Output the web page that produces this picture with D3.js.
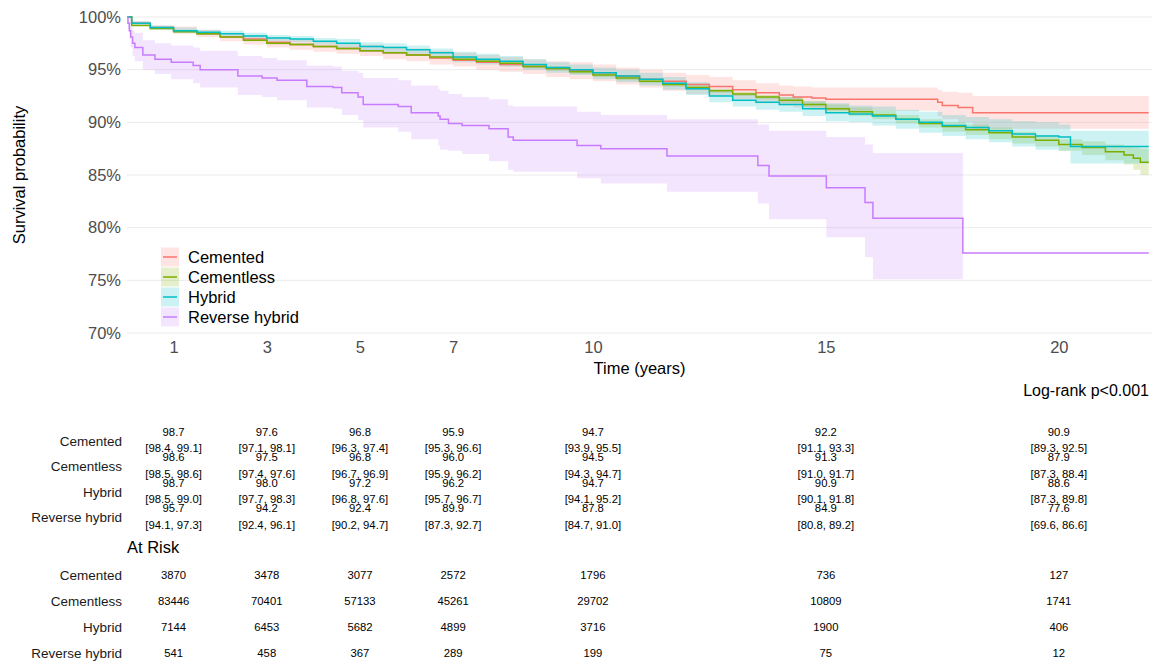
<!DOCTYPE html>
<html>
<head>
<meta charset="utf-8">
<script src="https://cdn.jsdelivr.net/npm/d3@7"></script>
<style>
  body { margin: 0; background: #fff; }
  svg { display: block; font-family: "Liberation Sans", Arial, sans-serif; }
</style>
</head>
<body>
<svg id="chart" width="1158" height="663"></svg>
<script>
"use strict";

// ===== Data =====
const groups = ["Cemented", "Cementless", "Hybrid", "Reverse hybrid"];
const colors = ["#F8766D", "#7CAE00", "#00BFC4", "#C77CFF"];
const endTime = 21.93;

// Cemented
const cemTime  = [0, 0.1, 0.5, 1, 1.5, 2, 2.5, 3, 3.5, 4, 4.5, 5, 5.5, 6, 6.5, 7, 7.5, 8, 8.5, 9, 9.5, 10, 10.5, 11, 11.5, 12, 12.5, 13, 13.5, 14, 14.3, 14.7, 15, 17.4, 17.5, 17.84, 18.15];
const cemSurv  = [100, 99.4, 99.0, 98.7, 98.4, 98.1, 97.9, 97.6, 97.4, 97.2, 97.0, 96.8, 96.6, 96.4, 96.1, 95.9, 95.7, 95.5, 95.3, 95.1, 94.9, 94.7, 94.4, 94.1, 93.9, 93.6, 93.4, 93.1, 92.8, 92.6, 92.4, 92.3, 92.2, 91.9, 91.6, 91.4, 90.9];
const cemLower = [100, 99.2, 98.8, 98.4, 98.1, 97.7, 97.4, 97.1, 96.9, 96.7, 96.5, 96.3, 96.0, 95.8, 95.5, 95.3, 95.0, 94.8, 94.6, 94.3, 94.1, 93.9, 93.6, 93.3, 93.0, 92.7, 92.5, 92.2, 91.8, 91.6, 91.4, 91.2, 91.1, 90.6, 90.3, 90.0, 89.4];
const cemUpper = [100, 99.6, 99.2, 99.1, 98.8, 98.5, 98.3, 98.1, 97.9, 97.7, 97.5, 97.4, 97.2, 97.0, 96.8, 96.6, 96.4, 96.2, 96.0, 95.8, 95.7, 95.5, 95.2, 95.0, 94.7, 94.5, 94.3, 94.0, 93.7, 93.5, 93.4, 93.3, 93.3, 93.1, 92.9, 92.8, 92.5];

// Cementless
const clsTime  = [0, 0.1, 0.5, 1, 1.5, 2, 2.5, 3, 3.5, 4, 4.5, 5, 5.5, 6, 6.5, 7, 7.5, 8, 8.5, 9, 9.5, 10, 10.5, 11, 11.5, 12, 12.5, 13, 13.5, 14, 14.5, 15, 15.5, 16, 16.5, 17, 17.5, 18, 18.5, 19, 19.5, 20, 20.5, 21, 21.4, 21.6, 21.75];
const clsSurv  = [100, 99.2, 98.9, 98.6, 98.4, 98.1, 97.8, 97.5, 97.4, 97.2, 97.0, 96.8, 96.6, 96.4, 96.2, 96.0, 95.8, 95.6, 95.3, 95.1, 94.8, 94.5, 94.2, 93.9, 93.6, 93.3, 93.0, 92.7, 92.4, 92.1, 91.7, 91.3, 91.0, 90.7, 90.3, 89.9, 89.6, 89.3, 89.0, 88.6, 88.3, 87.9, 87.6, 87.2, 86.9, 86.6, 86.2];
const clsLower = [100, 99.15, 98.85, 98.5, 98.3, 98.0, 97.7, 97.4, 97.3, 97.1, 96.9, 96.7, 96.5, 96.3, 96.0, 95.9, 95.7, 95.4, 95.1, 94.9, 94.6, 94.3, 94.0, 93.7, 93.4, 93.1, 92.8, 92.5, 92.2, 91.8, 91.4, 91.0, 90.6, 90.3, 89.9, 89.5, 89.1, 88.8, 88.4, 88.0, 87.7, 87.3, 86.9, 86.4, 86.0, 85.5, 85.0];
const clsUpper = [100, 99.25, 98.95, 98.6, 98.5, 98.2, 97.9, 97.6, 97.5, 97.3, 97.1, 96.9, 96.7, 96.5, 96.3, 96.2, 96.0, 95.7, 95.5, 95.3, 95.0, 94.7, 94.4, 94.1, 93.8, 93.5, 93.2, 92.9, 92.6, 92.4, 92.0, 91.7, 91.4, 91.1, 90.7, 90.3, 90.0, 89.8, 89.5, 89.1, 88.8, 88.4, 88.2, 87.9, 87.7, 87.6, 87.5];

// Hybrid
const hybTime  = [0, 0.1, 0.5, 1, 1.5, 2, 2.5, 3, 3.5, 4, 4.5, 5, 5.5, 6, 6.5, 7, 7.5, 8, 8.5, 9, 9.5, 10, 10.5, 11, 11.5, 12, 12.5, 13, 13.5, 14, 14.5, 15, 15.5, 16, 16.5, 17, 17.5, 18, 18.5, 19, 19.5, 20, 20.25];
const hybSurv  = [100, 99.4, 99.0, 98.7, 98.55, 98.4, 98.2, 98.0, 97.9, 97.7, 97.5, 97.2, 97.1, 96.9, 96.6, 96.2, 96.0, 95.8, 95.5, 95.2, 95.0, 94.7, 94.4, 94.1, 93.7, 93.2, 92.5, 92.1, 91.9, 91.7, 91.3, 90.9, 90.8, 90.6, 90.3, 90.0, 89.7, 89.5, 89.2, 88.9, 88.7, 88.6, 87.7];
const hybLower = [100, 99.2, 98.8, 98.5, 98.3, 98.1, 97.9, 97.7, 97.6, 97.4, 97.1, 96.8, 96.7, 96.5, 96.2, 95.7, 95.5, 95.3, 95.0, 94.7, 94.5, 94.1, 93.8, 93.5, 93.1, 92.6, 91.9, 91.5, 91.2, 91.0, 90.6, 90.1, 90.0, 89.7, 89.4, 89.0, 88.7, 88.4, 88.1, 87.7, 87.4, 87.3, 86.1];
const hybUpper = [100, 99.6, 99.2, 99.0, 98.8, 98.7, 98.5, 98.3, 98.2, 98.0, 97.9, 97.6, 97.5, 97.3, 97.0, 96.7, 96.5, 96.3, 96.0, 95.7, 95.5, 95.2, 95.0, 94.7, 94.3, 93.8, 93.1, 92.7, 92.5, 92.4, 92.0, 91.8, 91.6, 91.5, 91.2, 91.0, 90.7, 90.5, 90.3, 90.1, 90.0, 89.8, 89.2];

// Reverse hybrid
const revTime  = [0, 0.02, 0.05, 0.08, 0.12, 0.17, 0.34, 0.6, 0.95, 1.42, 1.57, 2.38, 2.9, 3.22, 3.86, 4.42, 4.61, 4.96, 5.07, 5.82, 6.1, 6.68, 6.72, 6.9, 7.19, 7.77, 8.18, 8.29, 9.66, 10.17, 11.59, 13.54, 13.78, 15.01, 15.84, 16.01, 17.94];
const revSurv  = [100, 99.4, 98.7, 98.1, 97.5, 97.1, 96.4, 96.0, 95.7, 95.4, 95.0, 94.4, 94.2, 94.0, 93.4, 93.3, 92.8, 92.4, 91.7, 91.5, 90.9, 90.6, 90.3, 89.9, 89.7, 89.4, 88.6, 88.3, 87.8, 87.5, 86.8, 85.9, 84.9, 83.8, 82.4, 80.9, 77.6];
const revLower = [100, 98.9, 97.9, 97.1, 96.3, 95.8, 95.0, 94.6, 94.1, 93.7, 93.3, 92.6, 92.4, 92.1, 91.4, 91.3, 90.7, 90.2, 89.5, 89.1, 88.4, 87.8, 87.4, 87.3, 87.0, 86.3, 85.5, 85.3, 84.7, 84.2, 83.4, 82.3, 80.8, 79.1, 77.2, 75.1, 69.6];
const revUpper = [100, 99.9, 99.6, 99.1, 98.7, 98.5, 97.8, 97.5, 97.3, 97.1, 96.8, 96.3, 96.1, 95.9, 95.4, 95.3, 94.9, 94.7, 94.2, 94.0, 93.5, 93.2, 93.0, 92.7, 92.4, 92.2, 91.6, 91.5, 91.0, 90.7, 90.3, 89.8, 89.2, 88.6, 87.9, 87.1, 86.6];

// Survival table (%, with 95% CI) at the table times
const tableTimes = [1, 3, 5, 7, 10, 15, 20];
const survCemented   = [98.7, 97.6, 96.8, 95.9, 94.7, 92.2, 90.9];
const lowCemented    = [98.4, 97.1, 96.3, 95.3, 93.9, 91.1, 89.3];
const highCemented   = [99.1, 98.1, 97.4, 96.6, 95.5, 93.3, 92.5];
const survCementless = [98.6, 97.5, 96.8, 96.0, 94.5, 91.3, 87.9];
const lowCementless  = [98.5, 97.4, 96.7, 95.9, 94.3, 91.0, 87.3];
const highCementless = [98.6, 97.6, 96.9, 96.2, 94.7, 91.7, 88.4];
const survHybrid     = [98.7, 98.0, 97.2, 96.2, 94.7, 90.9, 88.6];
const lowHybrid      = [98.5, 97.7, 96.8, 95.7, 94.1, 90.1, 87.3];
const highHybrid     = [99.0, 98.3, 97.6, 96.7, 95.2, 91.8, 89.8];
const survReverse    = [95.7, 94.2, 92.4, 89.9, 87.8, 84.9, 77.6];
const lowReverse     = [94.1, 92.4, 90.2, 87.3, 84.7, 80.8, 69.6];
const highReverse    = [97.3, 96.1, 94.7, 92.7, 91.0, 89.2, 86.6];

// Numbers at risk
const riskCemented   = [3870, 3478, 3077, 2572, 1796, 736, 127];
const riskCementless = [83446, 70401, 57133, 45261, 29702, 10809, 1741];
const riskHybrid     = [7144, 6453, 5682, 4899, 3716, 1900, 406];
const riskReverse    = [541, 458, 367, 289, 199, 75, 12];

const xTicks = [1, 3, 5, 7, 10, 15, 20];
const yTicks = [70, 75, 80, 85, 90, 95, 100];
const pValueText = "Log-rank p<0.001";

// ===== Setup =====
const svg = d3.select("#chart");
const x = d3.scaleLinear().domain([0, 22]).range([127, 1152]);
const y = d3.scaleLinear().domain([70, 100]).range([333, 17]);

const series = [
  { time: cemTime, surv: cemSurv, lower: cemLower, upper: cemUpper },
  { time: clsTime, surv: clsSurv, lower: clsLower, upper: clsUpper },
  { time: hybTime, surv: hybSurv, lower: hybLower, upper: hybUpper },
  { time: revTime, surv: revSurv, lower: revLower, upper: revUpper },
].map((s, i) => ({ ...s, name: groups[i], color: colors[i] }));

// ===== Grid =====
svg.append("g").attr("class", "grid")
  .selectAll("line")
  .data(yTicks)
  .join("line")
  .attr("x1", x.range()[0])
  .attr("x2", x.range()[1])
  .attr("y1", d => y(d))
  .attr("y2", d => y(d))
  .attr("stroke", "#ebebeb")
  .attr("stroke-width", 1);

// ===== Confidence bands =====
// ribbon is dropped once the lower bound leaves the y limits (like ggplot)
function bandPoints(s) {
  const pts = [];
  for (let i = 0; i < s.time.length; i++) {
    if (s.lower[i] < y.domain()[0]) {
      const p = pts[pts.length - 1];
      pts.push({ t: s.time[i], lo: p.lo, hi: p.hi });
      return pts;
    }
    pts.push({ t: s.time[i], lo: s.lower[i], hi: s.upper[i] });
  }
  const p = pts[pts.length - 1];
  pts.push({ t: endTime, lo: p.lo, hi: p.hi });
  return pts;
}

const area = d3.area()
  .curve(d3.curveStepAfter)
  .x(d => x(d.t))
  .y0(d => y(d.lo))
  .y1(d => y(d.hi));

svg.append("g").attr("class", "bands")
  .selectAll("path")
  .data(series)
  .join("path")
  .attr("d", d => area(bandPoints(d)))
  .attr("fill", d => d.color)
  .attr("fill-opacity", 0.2);

// ===== Survival curves =====
const line = d3.line()
  .curve(d3.curveStepAfter)
  .x(d => x(d.t))
  .y(d => y(d.s));

svg.append("g").attr("class", "curves")
  .selectAll("path")
  .data(series)
  .join("path")
  .attr("d", d => {
    const pts = d.time.map((t, i) => ({ t, s: d.surv[i] }));
    pts.push({ t: endTime, s: d.surv[d.surv.length - 1] });
    return line(pts);
  })
  .attr("fill", "none")
  .attr("stroke", d => d.color)
  .attr("stroke-width", 1.5);

// ===== Axes =====
const yAxis = svg.append("g")
  .attr("transform", `translate(${x.range()[0]},0)`)
  .call(d3.axisLeft(y).tickValues(yTicks).tickFormat(d => d + "%").tickSize(0).tickPadding(6));
yAxis.select(".domain").remove();
yAxis.selectAll("text")
  .attr("font-size", 16.5)
  .attr("font-family", "Liberation Sans, Arial, sans-serif")
  .attr("fill", "#4d4d4d");

const xAxis = svg.append("g")
  .attr("transform", `translate(0,${y.range()[0]})`)
  .call(d3.axisBottom(x).tickValues(xTicks).tickSize(0).tickPadding(8));
xAxis.select(".domain").remove();
xAxis.selectAll("text")
  .attr("font-size", 16.5)
  .attr("font-family", "Liberation Sans, Arial, sans-serif")
  .attr("fill", "#4d4d4d");

svg.append("text")
  .attr("x", (x.range()[0] + x.range()[1]) / 2)
  .attr("y", 374)
  .attr("text-anchor", "middle")
  .attr("font-size", 16.5)
  .text("Time (years)");

svg.append("text")
  .attr("transform", `translate(25,${(y.range()[0] + y.range()[1]) / 2}) rotate(-90)`)
  .attr("text-anchor", "middle")
  .attr("font-size", 16.5)
  .text("Survival probability");

svg.append("text")
  .attr("x", 1149)
  .attr("y", 396)
  .attr("text-anchor", "end")
  .attr("font-size", 16)
  .text(pValueText);

// ===== Legend =====
const legend = svg.append("g").attr("class", "legend")
  .selectAll("g")
  .data(series)
  .join("g")
  .attr("transform", (d, i) => `translate(161,${257 + i * 20})`);

legend.append("rect")
  .attr("x", 0).attr("y", -9.5)
  .attr("width", 18).attr("height", 19)
  .attr("fill", d => d.color)
  .attr("fill-opacity", 0.2);
legend.append("line")
  .attr("x1", 2).attr("x2", 16)
  .attr("stroke", d => d.color)
  .attr("stroke-width", 1.5);
legend.append("text")
  .attr("x", 27)
  .attr("dy", "0.35em")
  .attr("font-size", 16.5)
  .text(d => d.name);

// ===== Survival table =====
const survRows = [
  [survCemented, lowCemented, highCemented],
  [survCementless, lowCementless, highCementless],
  [survHybrid, lowHybrid, highHybrid],
  [survReverse, lowReverse, highReverse],
];
const survRowY = [441, 466.5, 492, 517.5];
const labelX = 122;

survRows.forEach(([s, lo, hi], r) => {
  const g = svg.append("g").attr("class", "surv-row");
  g.append("text")
    .attr("x", labelX).attr("y", survRowY[r])
    .attr("dy", "0.35em")
    .attr("text-anchor", "end")
    .attr("font-size", 13.5)
    .attr("fill", "#1a1a1a")
    .text(groups[r]);
  g.selectAll("text.val")
    .data(tableTimes)
    .join("text")
    .attr("class", "val")
    .attr("x", d => x(d)).attr("y", survRowY[r] - 9)
    .attr("dy", "0.35em")
    .attr("text-anchor", "middle")
    .attr("font-size", 11.3)
    .text((d, i) => s[i].toFixed(1));
  g.selectAll("text.ci")
    .data(tableTimes)
    .join("text")
    .attr("class", "ci")
    .attr("x", d => x(d)).attr("y", survRowY[r] + 7.5)
    .attr("dy", "0.35em")
    .attr("text-anchor", "middle")
    .attr("font-size", 11.3)
    .text((d, i) => `[${lo[i].toFixed(1)}, ${hi[i].toFixed(1)}]`);
});

// ===== At risk table =====
svg.append("text")
  .attr("x", 127).attr("y", 547)
  .attr("dy", "0.35em")
  .attr("font-size", 16.5)
  .text("At Risk");

const riskRows = [riskCemented, riskCementless, riskHybrid, riskReverse];
const riskRowY = [575, 601, 627, 653];

riskRows.forEach((vals, r) => {
  const g = svg.append("g").attr("class", "risk-row");
  g.append("text")
    .attr("x", labelX).attr("y", riskRowY[r])
    .attr("dy", "0.35em")
    .attr("text-anchor", "end")
    .attr("font-size", 13.5)
    .attr("fill", "#1a1a1a")
    .text(groups[r]);
  g.selectAll("text.n")
    .data(tableTimes)
    .join("text")
    .attr("class", "n")
    .attr("x", d => x(d)).attr("y", riskRowY[r])
    .attr("dy", "0.35em")
    .attr("text-anchor", "middle")
    .attr("font-size", 11.3)
    .text((d, i) => vals[i]);
});
</script>
</body>
</html>
